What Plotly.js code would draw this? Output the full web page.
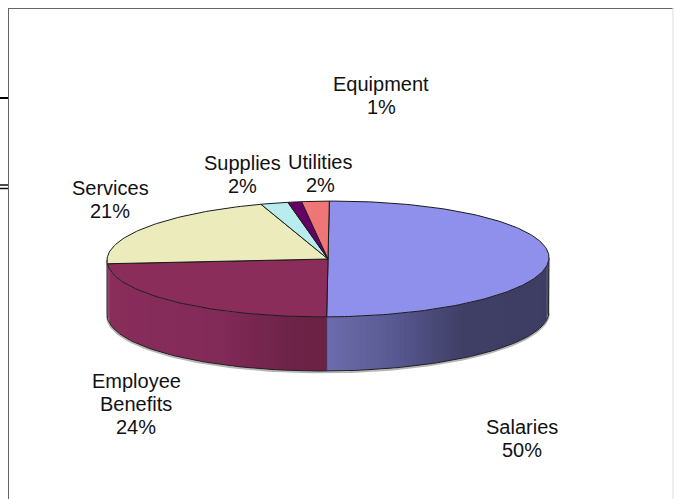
<!DOCTYPE html>
<html>
<head>
<meta charset="utf-8">
<script src="https://cdn.plot.ly/plotly-3.0.1.min.js"></script>
<style>html,body{margin:0;padding:0;background:#fff;overflow:hidden}#chart{width:674px;height:499px}</style>
</head>
<body>
<div id="chart"></div>
<script>
// Budget share by expense category, clockwise from twelve o'clock.
const categories = ['Salaries', 'Employee Benefits', 'Services', 'Supplies', 'Equipment', 'Utilities'];
const shares = [50, 24, 21, 2, 1, 2];
const labelLines = [['Salaries'], ['Employee', 'Benefits'], ['Services'], ['Supplies'], ['Equipment'], ['Utilities']];

const topColors = ['#8f8fec', '#8b2d5b', '#ebebbc', '#b9ecec', '#660066', '#ef7676'];
// Wall shading: [horizontal position on the disc, colour]
const wallShades = [
  [[0, [108, 108, 172]], [0.3, [88, 88, 145]], [0.6, [63, 63, 102]], [1, [62, 62, 100]]],
  [[-1, [138, 46, 92]], [-0.5, [130, 42, 88]], [-0.15, [108, 35, 70]], [0, [106, 34, 68]]],
  [[-1, [138, 138, 110]], [0, [138, 138, 110]]],
  [[-1, [110, 140, 140]], [0, [110, 140, 140]]],
  [[-1, [70, 0, 70]], [0, [70, 0, 70]]],
  [[-1, [150, 75, 75]], [0, [150, 75, 75]]]
];

// Disc proportions, in units of the disc radius.
const TILT = 0.262, DEPTH = 0.245, SHEAR_Y = 0.005, SHEAR_X = 0.006;
// Pixel frame of the drawing.
const W = 674, H = 499, CX = 328, CY = 259, R = 221;

const px = x => (x - CX) / R;
const py = y => (CY - y) / R;
const rimX = a => Math.sin(a) + SHEAR_X * Math.cos(a);
const rimY = a => TILT * Math.cos(a) + SHEAR_Y * Math.sin(a);

function shadeAt(stops, x) {
  let c = stops[stops.length - 1][1];
  for (let i = 1; i < stops.length; i++) {
    if (x <= stops[i][0]) {
      const [x0, c0] = stops[i - 1], [x1, c1] = stops[i];
      const t = Math.max(0, (x - x0) / (x1 - x0 || 1));
      c = c0.map((v, k) => Math.round(v + (c1[k] - v) * t));
      break;
    }
  }
  return `rgb(${c.join(',')})`;
}

const total = shares.reduce((s, v) => s + v, 0);
const slices = [];
let run = 0;
shares.forEach(v => {
  slices.push([run / total * 2 * Math.PI, (run + v) / total * 2 * Math.PI]);
  run += v;
});

function arc(a0, a1, n, dy) {
  const xs = [], ys = [];
  for (let i = 0; i <= n; i++) {
    const a = a0 + (a1 - a0) * i / n;
    xs.push(rimX(a));
    ys.push(rimY(a) - dy);
  }
  return [xs, ys];
}

const base = {type: 'scatter', mode: 'lines', hoverinfo: 'skip', showlegend: false};
const traces = [];

// Front wall: narrow shaded strips, lower half of the rim only.
slices.forEach(([a0, a1], s) => {
  const from = Math.max(a0, Math.PI / 2), to = Math.min(a1, 1.5 * Math.PI);
  if (to <= from) return;
  const n = Math.max(1, Math.ceil((to - from) / 0.02));
  for (let i = 0; i < n; i++) {
    const p = from + (to - from) * i / n;
    const q = from + (to - from) * Math.min(1, (i + 1.6) / n);
    const [tx, ty] = arc(p, q, 2, 0);
    const [bx, by] = arc(q, p, 2, DEPTH);
    const fill = shadeAt(wallShades[s], (rimX(p) + rimX(q)) / 2);
    traces.push(Object.assign({}, base, {
      x: tx.concat(bx, [tx[0]]), y: ty.concat(by, [ty[0]]),
      fill: 'toself', fillcolor: fill, line: {width: 0}
    }));
  }
});

// Soft grey rim under the wall, then the wall outline.
const [lowX, lowY] = arc(Math.PI / 2, 1.5 * Math.PI, 120, DEPTH);
traces.push(Object.assign({}, base, {
  x: lowX, y: lowY.map(v => v - 0.006), line: {color: '#b5b5b5', width: 2}
}));
traces.push(Object.assign({}, base, {
  x: [rimX(Math.PI / 2)].concat(lowX, [rimX(1.5 * Math.PI)]),
  y: [rimY(Math.PI / 2)].concat(lowY, [rimY(1.5 * Math.PI)]),
  line: {color: '#222', width: 1}
}));

// Top face wedges.
slices.forEach(([a0, a1], s) => {
  const [ax, ay] = arc(a0, a1, Math.max(6, Math.ceil((a1 - a0) / 0.02)), 0);
  traces.push(Object.assign({}, base, {
    name: categories[s],
    x: [0].concat(ax, [0]), y: [0].concat(ay, [0]),
    fill: 'toself', fillcolor: topColors[s], line: {color: '#1a1a1a', width: 1}
  }));
});

// Slice boundary down the wall between the two large slices.
const seam = slices[0][1];
traces.push(Object.assign({}, base, {
  x: [rimX(seam), rimX(seam)], y: [rimY(seam), rimY(seam) - DEPTH],
  line: {color: '#4a2a55', width: 1}
}));

// Label anchors: horizontal centre and first row centre, in pixels.
const labelAnchors = [[522, 426.5], [136, 381], [110, 188], [242, 162.5], [381, 84], [320, 162]];
const LINE_STEP = 23;
const annotations = [];
categories.forEach((c, i) => {
  const lines = labelLines[i].concat(shares[i] + '%');
  lines.forEach((t, k) => annotations.push({
    x: px(labelAnchors[i][0]), y: py(labelAnchors[i][1] + k * LINE_STEP),
    xref: 'x', yref: 'y', text: t, showarrow: false,
    xanchor: 'center', yanchor: 'middle',
    font: {family: 'Liberation Sans, Arial, sans-serif', size: 20, color: '#111'}
  }));
});

const paperLine = (x0, y0, x1, y1, color, width) => ({
  type: 'line', xref: 'paper', yref: 'paper',
  x0: x0 / W, x1: x1 / W, y0: 1 - y0 / H, y1: 1 - y1 / H,
  line: {color, width}
});

const layout = {
  width: W, height: H,
  margin: {l: 0, r: 0, t: 0, b: 0},
  paper_bgcolor: '#fff', plot_bgcolor: '#fff',
  showlegend: false,
  xaxis: {visible: false, range: [px(0), px(W)], fixedrange: true},
  yaxis: {visible: false, range: [py(H), py(0)], fixedrange: true},
  annotations,
  shapes: [
    paperLine(8.5, 8.5, 8.5, H, '#666', 1),
    paperLine(8, 8.5, W - 1, 8.5, '#666', 1),
    paperLine(W - 1, 8, W - 1, H, '#ddd', 1),
    paperLine(0, 98, 8, 98, '#000', 2),
    paperLine(0, 185, 8, 185, '#111', 1.5),
    paperLine(0, 188.5, 8, 188.5, '#111', 1.5)
  ]
};

Plotly.newPlot('chart', traces, layout, {displayModeBar: false, staticPlot: true});
</script>
</body>
</html>
